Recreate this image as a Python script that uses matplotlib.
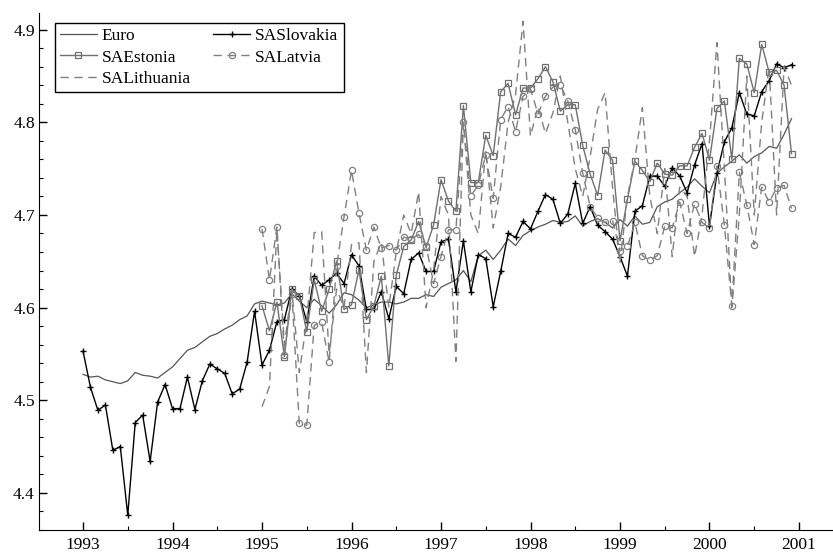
import numpy as np
import matplotlib
matplotlib.use("Agg")
import matplotlib.pyplot as plt
from matplotlib.ticker import MultipleLocator

plt.rcParams['font.family'] = ['Liberation Serif', 'DejaVu Serif']

start_year = 1993
euro = [4.528, 4.525, 4.526, 4.522, 4.520, 4.518, 4.521, 4.530, 4.527, 4.526, 4.524, 4.530,
        4.536, 4.545, 4.554, 4.557, 4.563, 4.569, 4.572, 4.577, 4.581, 4.587, 4.591, 4.604,
        4.607, 4.605, 4.603, 4.605, 4.615, 4.607, 4.600, 4.609, 4.602, 4.594, 4.603, 4.616,
        4.614, 4.608, 4.600, 4.603, 4.606, 4.606, 4.604, 4.606, 4.610, 4.610, 4.614, 4.612,
        4.622, 4.626, 4.630, 4.640, 4.628, 4.656, 4.662, 4.652, 4.662, 4.674, 4.667, 4.678,
        4.683, 4.687, 4.690, 4.694, 4.692, 4.693, 4.699, 4.688, 4.693, 4.696, 4.692, 4.686,
        4.695, 4.688, 4.699, 4.690, 4.692, 4.709, 4.714, 4.717, 4.724, 4.730, 4.739, 4.731,
        4.724, 4.745, 4.752, 4.758, 4.765, 4.756, 4.763, 4.767, 4.774, 4.772, 4.787, 4.804]

slovakia = [4.553, 4.514, 4.489, 4.495, 4.446, 4.450, 4.376, 4.476, 4.484, 4.434, 4.498, 4.517,
            4.491, 4.491, 4.525, 4.490, 4.521, 4.539, 4.534, 4.529, 4.507, 4.512, 4.541, 4.596,
            4.538, 4.554, 4.585, 4.587, 4.620, 4.613, 4.585, 4.634, 4.624, 4.630, 4.637, 4.626,
            4.657, 4.645, 4.598, 4.598, 4.617, 4.588, 4.623, 4.615, 4.652, 4.659, 4.639, 4.639,
            4.671, 4.674, 4.617, 4.672, 4.617, 4.657, 4.653, 4.601, 4.639, 4.680, 4.676, 4.693,
            4.685, 4.704, 4.722, 4.717, 4.691, 4.701, 4.734, 4.691, 4.709, 4.689, 4.682, 4.674,
            4.655, 4.634, 4.704, 4.710, 4.742, 4.742, 4.731, 4.751, 4.742, 4.724, 4.754, 4.777,
            4.688, 4.745, 4.779, 4.794, 4.832, 4.809, 4.807, 4.833, 4.845, 4.863, 4.859, 4.862]

# Baltic series start January 1995 (month index 24)
baltic_start = 24
estonia = [4.602, 4.575, 4.606, 4.547, 4.620, 4.613, 4.574, 4.630, 4.596, 4.620, 4.650, 4.598,
           4.603, 4.641, 4.587, 4.602, 4.634, 4.537, 4.635, 4.666, 4.673, 4.693, 4.665, 4.689,
           4.738, 4.715, 4.704, 4.818, 4.735, 4.735, 4.786, 4.764, 4.833, 4.842, 4.808, 4.837,
           4.837, 4.847, 4.860, 4.844, 4.812, 4.819, 4.819, 4.775, 4.744, 4.721, 4.770, 4.759,
           4.672, 4.717, 4.758, 4.748, 4.736, 4.756, 4.744, 4.743, 4.753, 4.753, 4.773, 4.788,
           4.759, 4.815, 4.823, 4.760, 4.869, 4.863, 4.832, 4.884, 4.854, 4.856, 4.840, 4.766]

latvia = [4.685, 4.630, 4.687, 4.549, 4.615, 4.475, 4.473, 4.581, 4.584, 4.541, 4.645, 4.698,
          4.748, 4.702, 4.662, 4.687, 4.664, 4.667, 4.662, 4.676, 4.674, 4.679, 4.667, 4.626,
          4.655, 4.684, 4.684, 4.800, 4.721, 4.732, 4.765, 4.718, 4.803, 4.817, 4.790, 4.828,
          4.836, 4.809, 4.828, 4.838, 4.840, 4.823, 4.792, 4.745, 4.709, 4.697, 4.692, 4.694,
          4.661, 4.666, 4.692, 4.656, 4.651, 4.656, 4.688, 4.686, 4.714, 4.680, 4.712, 4.692,
          4.686, 4.753, 4.689, 4.602, 4.746, 4.711, 4.668, 4.730, 4.714, 4.729, 4.732, 4.707]

lithuania = [4.493, 4.515, 4.685, 4.560, 4.620, 4.530, 4.585, 4.681, 4.682, 4.550, 4.620, 4.600,
             4.668, 4.670, 4.530, 4.650, 4.670, 4.600, 4.660, 4.700, 4.680, 4.725, 4.600, 4.640,
             4.720, 4.700, 4.542, 4.800, 4.700, 4.680, 4.770, 4.686, 4.730, 4.800, 4.830, 4.909,
             4.785, 4.817, 4.788, 4.810, 4.850, 4.800, 4.750, 4.720, 4.763, 4.814, 4.832, 4.730,
             4.648, 4.720, 4.760, 4.816, 4.720, 4.680, 4.750, 4.655, 4.730, 4.720, 4.655, 4.700,
             4.780, 4.886, 4.750, 4.600, 4.700, 4.850, 4.700, 4.800, 4.860, 4.700, 4.860, 4.840]

x_ticks = [1993, 1994, 1995, 1996, 1997, 1998, 1999, 2000, 2001]

t_all = start_year + np.arange(len(euro)) / 12.0
t_baltic = start_year + (baltic_start + np.arange(len(estonia))) / 12.0

fig = plt.figure(figsize=(8.33, 5.57), dpi=100)
ax = fig.add_axes([0.0468, 0.0485, 0.9532, 0.9282])

h_euro, = ax.plot(t_all, euro, color='#555555', lw=0.9, label='Euro')
h_svk, = ax.plot(t_all, slovakia, color='black', lw=1.0, marker='+', ms=5, mew=1.0,
                 label='SASlovakia')
h_est, = ax.plot(t_baltic, estonia, color='#707070', lw=1.0, marker='s', ms=4.5, mfc='none',
                 mec='#707070', mew=0.9, label='SAEstonia')
h_lva, = ax.plot(t_baltic, latvia, color='#808080', lw=1.0, ls=(0, (6, 4)), marker='o', ms=4.5,
                 mfc='none', mec='#808080', mew=0.9, label='SALatvia')
h_ltu, = ax.plot(t_baltic, lithuania, color='#808080', lw=1.0, ls=(0, (6, 4)),
                 label='SALithuania')

ax.set_xlim(1992.508, 2001.38)
ax.set_ylim(4.36, 4.918)
ax.set_xticks(x_ticks)
ax.set_xticklabels([str(v) for v in x_ticks])
ax.xaxis.set_minor_locator(MultipleLocator(0.5))
ax.yaxis.set_major_locator(MultipleLocator(0.1))
ax.yaxis.set_minor_locator(MultipleLocator(0.02))
ax.tick_params(which='both', direction='in', labelsize=12.5, top=False, right=False)
ax.tick_params(which='major', length=6, width=1)
ax.tick_params(which='minor', length=3, width=0.8)
ax.tick_params(axis='y', pad=3)
ax.tick_params(axis='x', pad=5)
for s in ['top', 'right']:
    ax.spines[s].set_visible(False)

handles = [h_euro, h_est, h_ltu, h_svk, h_lva]
leg = ax.legend(handles=handles, labels=[h.get_label() for h in handles],
                loc='upper left', ncol=2, fontsize=12.5, frameon=True, fancybox=False,
                edgecolor='black', framealpha=1, handlelength=2.1, columnspacing=1.3,
                borderpad=0.3, labelspacing=0.3, handletextpad=0.3, borderaxespad=0,
                bbox_to_anchor=(0.020, 0.981))
leg.get_frame().set_linewidth(1.0)

fig.savefig('out.png', dpi=100)
